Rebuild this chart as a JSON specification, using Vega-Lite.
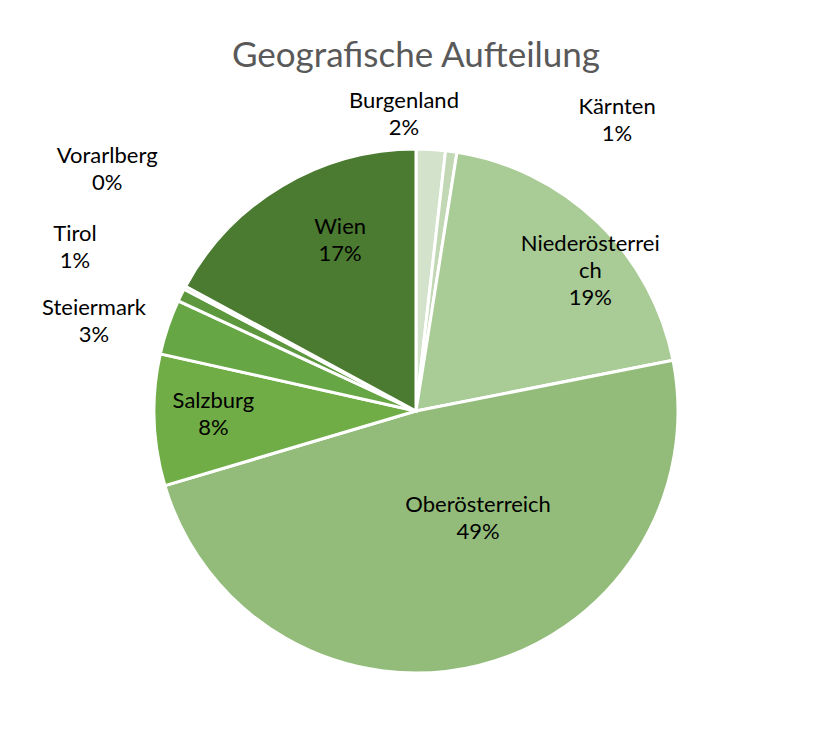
{
  "$schema": "https://vega.github.io/schema/vega-lite/v6.json",
  "width": 524,
  "height": 524,
  "autosize": {"type": "none"},
  "padding": {"left": 154, "top": 149, "right": 136, "bottom": 67},
  "background": "white",
  "config": {"view": {"stroke": null}, "text": {"font": "Lato", "fontSize": 22, "lineBreak": "|", "lineHeight": 27, "color": "#000000"}},
  "title": {
    "text": "Geografische Aufteilung",
    "font": "Lato",
    "fontSize": 35,
    "fontWeight": "normal",
    "color": "#595959",
    "anchor": "middle",
    "frame": "group",
    "offset": 16
  },
  "data": {
    "values": [
      {"idx": 1, "name": "Burgenland", "value": 1.8, "label": "Burgenland|2%"},
      {"idx": 2, "name": "Kärnten", "value": 0.7, "label": "Kärnten|1%"},
      {"idx": 3, "name": "Niederösterreich", "value": 19.4, "label": "Niederösterrei|ch|19%"},
      {"idx": 4, "name": "Oberösterreich", "value": 48.5, "label": "Oberösterreich|49%"},
      {"idx": 5, "name": "Salzburg", "value": 8.1, "label": "Salzburg|8%"},
      {"idx": 6, "name": "Steiermark", "value": 3.4, "label": "Steiermark|3%"},
      {"idx": 7, "name": "Tirol", "value": 0.8, "label": "Tirol|1%"},
      {"idx": 8, "name": "Vorarlberg", "value": 0.2, "label": "Vorarlberg|0%"},
      {"idx": 9, "name": "Wien", "value": 17.1, "label": "Wien|17%"}
    ]
  },
  "layer": [
    {
      "mark": {"type": "arc", "stroke": "white", "strokeWidth": 3},
      "encoding": {
        "theta": {"field": "value", "type": "quantitative", "stack": true},
        "order": {"field": "idx", "type": "quantitative"},
        "color": {
          "field": "name",
          "type": "nominal",
          "legend": null,
          "scale": {
            "domain": ["Burgenland", "Kärnten", "Niederösterreich", "Oberösterreich", "Salzburg", "Steiermark", "Tirol", "Vorarlberg", "Wien"],
            "range": ["#d3e2cb", "#c2d8b5", "#a9cb96", "#93bc7b", "#70ad47", "#67a644", "#5e983e", "#558a39", "#4b7a31"]
          }
        }
      }
    },
    {
      "transform": [{"stack": "value", "groupby": [], "sort": [{"field": "idx"}], "as": ["v0", "v1"]}, {"filter": "datum.name === 'Burgenland'"}],
      "mark": {"type": "text", "radius": 296, "dx": -12, "dy": -14},
      "encoding": {"theta": {"field": "v0", "type": "quantitative", "stack": null}, "text": {"field": "label"}}
    },
    {
      "transform": [{"stack": "value", "groupby": [], "sort": [{"field": "idx"}], "as": ["v0", "v1"]}, {"filter": "datum.name === 'Kärnten'"}],
      "mark": {"type": "text", "radius": 293, "dx": 168, "dy": -13},
      "encoding": {"theta": {"field": "v0", "type": "quantitative", "stack": null}, "text": {"field": "label"}}
    },
    {
      "transform": [{"stack": "value", "groupby": [], "sort": [{"field": "idx"}], "as": ["v0", "v1"]}, {"filter": "datum.name === 'Niederösterreich'"}],
      "mark": {"type": "text", "radius": 200, "dx": 143, "dy": 31},
      "encoding": {"theta": {"field": "v0", "type": "quantitative", "stack": null}, "text": {"field": "label"}}
    },
    {
      "transform": [{"stack": "value", "groupby": [], "sort": [{"field": "idx"}], "as": ["v0", "v1"]}, {"filter": "datum.name === 'Oberösterreich'"}],
      "mark": {"type": "text", "radius": 100, "dx": -36, "dy": 113},
      "encoding": {"theta": {"field": "v0", "type": "quantitative", "stack": null}, "text": {"field": "label"}}
    },
    {
      "transform": [{"stack": "value", "groupby": [], "sort": [{"field": "idx"}], "as": ["v0", "v1"]}, {"filter": "datum.name === 'Salzburg'"}],
      "mark": {"type": "text", "radius": 203, "dx": -8, "dy": -68},
      "encoding": {"theta": {"field": "v0", "type": "quantitative", "stack": null}, "text": {"field": "label"}}
    },
    {
      "transform": [{"stack": "value", "groupby": [], "sort": [{"field": "idx"}], "as": ["v0", "v1"]}, {"filter": "datum.name === 'Steiermark'"}],
      "mark": {"type": "text", "radius": 334, "dx": 4, "dy": -30},
      "encoding": {"theta": {"field": "v0", "type": "quantitative", "stack": null}, "text": {"field": "label"}}
    },
    {
      "transform": [{"stack": "value", "groupby": [], "sort": [{"field": "idx"}], "as": ["v0", "v1"]}, {"filter": "datum.name === 'Tirol'"}],
      "mark": {"type": "text", "radius": 378, "dx": 2, "dy": -18},
      "encoding": {"theta": {"field": "v0", "type": "quantitative", "stack": null}, "text": {"field": "label"}}
    },
    {
      "transform": [{"stack": "value", "groupby": [], "sort": [{"field": "idx"}], "as": ["v0", "v1"]}, {"filter": "datum.name === 'Vorarlberg'"}],
      "mark": {"type": "text", "radius": 350, "dx": 1, "dy": -92},
      "encoding": {"theta": {"field": "v0", "type": "quantitative", "stack": null}, "text": {"field": "label"}}
    },
    {
      "transform": [{"stack": "value", "groupby": [], "sort": [{"field": "idx"}], "as": ["v0", "v1"]}, {"filter": "datum.name === 'Wien'"}],
      "mark": {"type": "text", "radius": 150, "dx": 56, "dy": -113},
      "encoding": {"theta": {"field": "v0", "type": "quantitative", "stack": null}, "text": {"field": "label"}}
    }
  ]
}
